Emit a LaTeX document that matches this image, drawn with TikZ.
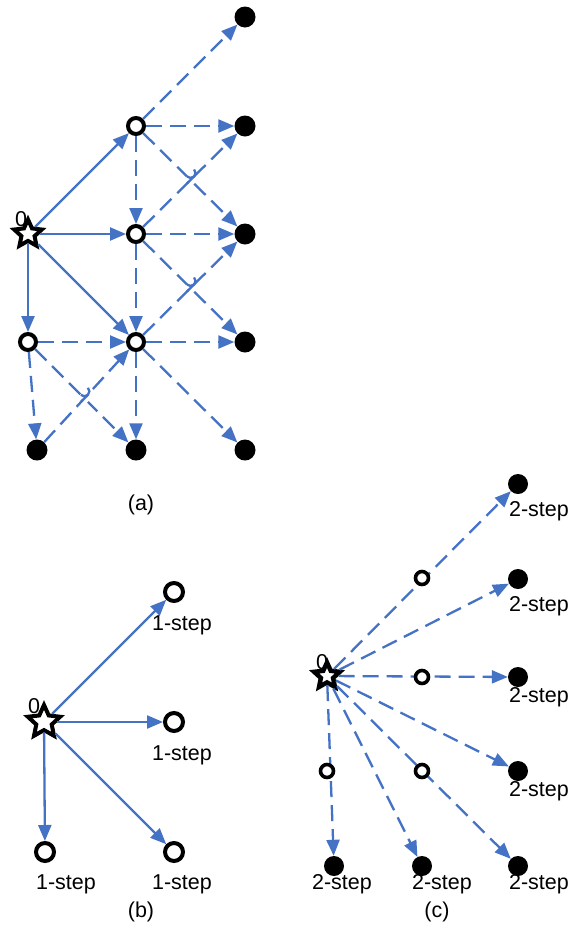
\documentclass[tikz,border=0pt]{standalone}
\usepackage{fontspec}
\setmainfont{Liberation Sans}
\usetikzlibrary{arrows.meta,shapes.geometric,calc}
\definecolor{myblue}{RGB}{68,114,196}
\tikzset{
  blk/.style={circle, fill=black, minimum size=21pt, inner sep=0pt},
  opn/.style={circle, draw=black, line width=4pt, fill=white, minimum size=16pt, inner sep=0pt},
  opnbig/.style={opn, minimum size=18pt},
  opnsmall/.style={opn, minimum size=13pt, line width=3.6pt},
  strnode/.style={star, star points=5, star point ratio=2.1, draw=black, line width=4pt, fill=white, minimum size=29pt, inner sep=0pt},
  lbl/.style={inner sep=0pt, font=\fontsize{21.5}{24}\selectfont},
  sol/.style={draw=myblue, line width=2.3pt, -{Triangle[length=16pt,width=13pt]}},
  dsh/.style={sol, dash pattern=on 16pt off 8pt},
  hop/.style={draw=myblue, line width=2.3pt},
}
\begin{document}
\begin{tikzpicture}[x=1pt,y=-1pt]
\useasboundingbox (0,0) rectangle (576,930);
% ---------- panel (a)
\node[lbl] (z0a) at (21,219) {0};
\node[strnode] (s) at (28,234) {};
\node[opn] (o1) at (136,126) {};
\node[opn] (o2) at (136,234) {};
\node[opn] (o3) at (28,342) {};
\node[opn] (o4) at (136,342) {};
\node[blk] (b1) at (245,17) {};
\node[blk] (b2) at (245,126) {};
\node[blk] (b3) at (245,234) {};
\node[blk] (b4) at (245,342) {};
\node[blk] (b5) at (245,450) {};
\node[blk] (b6) at (37,450) {};
\node[blk] (b7) at (136,450) {};
\draw[sol] (s) -- (o1);
\draw[sol] (s) -- (o2);
\draw[sol] (s) -- (o3);
\draw[sol] (s) -- (o4);
\draw[dsh] (o1) -- (b1);
\draw[dsh] (o1) -- (b2);
\draw[dsh] (o1) -- (o2);
\draw[dsh] (o1) -- (b3);
\draw[dsh] (o2) -- (b2);
\draw[dsh] (o2) -- (b3);
\draw[dsh] (o2) -- (b4);
\draw[dsh] (o2) -- (o4);
\draw[dsh] (o3) -- (o4);
\draw[dsh] (o3) -- (b6);
\draw[dsh] (o3) -- (b7);
\draw[dsh] (o4) -- (b3);
\draw[dsh] (o4) -- (b4);
\draw[dsh] (o4) -- (b5);
\draw[dsh] (o4) -- (b7);
\draw[dsh] (b6) -- (o4);
% line jumps at crossings
\coordinate (x1) at (intersection of o1--b3 and o2--b2);
\coordinate (x2) at (intersection of o2--b4 and o4--b3);
\coordinate (x3) at (intersection of o3--b7 and b6--o4);
\foreach \c in {x1,x2,x3}{
  \draw[white, line width=4pt] ($(\c)+(-3.5,-3.5)$) -- ($(\c)+(3.5,3.5)$);
  \draw[hop] ($(\c)+(-3.5,3.5)$) -- ($(\c)+(3.5,-3.5)$);
  \draw[hop] ($(\c)+(-3.5,-3.5)$) arc[start angle=225, end angle=405, radius=5pt];
}
\node[lbl] (capa) at (141,505) {(a)};
% ---------- panel (b)
\node[lbl] (z0b) at (34,706) {0};
\node[strnode, minimum size=34pt] (s2) at (44,722) {};
\node[opnbig] (p1) at (174,592) {};
\node[opnbig] (p2) at (174,722) {};
\node[opnbig] (p3) at (45,852) {};
\node[opnbig] (p4) at (174,852) {};
\draw[sol] (s2) -- (p1);
\draw[sol] (s2) -- (p2);
\draw[sol] (s2) -- (p3);
\draw[sol] (s2) -- (p4);
\node[lbl] (l1) at (182,625) {1-step};
\node[lbl] (l2) at (182,755) {1-step};
\node[lbl] (l3) at (66,884) {1-step};
\node[lbl] (l4) at (182,884) {1-step};
\node[lbl] (capb) at (141,912) {(b)};
% ---------- panel (c)
\node[lbl] (z0c) at (322,662) {0};
\node[strnode, minimum size=27pt, line width=4.5pt] (s3) at (327,676) {};
\node[blk, minimum size=20pt] (d1) at (518,484) {};
\node[blk, minimum size=20pt] (d2) at (518,579) {};
\node[blk, minimum size=20pt] (d3) at (518,677) {};
\node[blk, minimum size=20pt] (d4) at (518,771) {};
\node[blk, minimum size=20pt] (d5) at (518,866) {};
\node[blk, minimum size=20pt] (d6) at (422,866) {};
\node[blk, minimum size=20pt] (d7) at (334,866) {};
\draw[dsh] (s3) -- (d1);
\draw[dsh] (s3) -- (d2);
\draw[dsh] (s3) -- (d3);
\draw[dsh] (s3) -- (d4);
\draw[dsh] (s3) -- (d5);
\draw[dsh] (s3) -- (d6);
\draw[dsh] (s3) -- (d7);
\node[opnsmall] (q1) at (422,578) {};
\node[opnsmall] (q2) at (422,677) {};
\node[opnsmall] (q3) at (327,771) {};
\node[opnsmall] (q4) at (422,771) {};
\node[lbl] (m1) at (539,511) {2-step};
\node[lbl] (m2) at (539,606) {2-step};
\node[lbl] (m3) at (539,697) {2-step};
\node[lbl] (m4) at (539,791) {2-step};
\node[lbl] (m5) at (539,884) {2-step};
\node[lbl] (m6) at (442,884) {2-step};
\node[lbl] (m7) at (342,884) {2-step};
\node[lbl] (capc) at (437,912) {(c)};
\end{tikzpicture}
\end{document}
